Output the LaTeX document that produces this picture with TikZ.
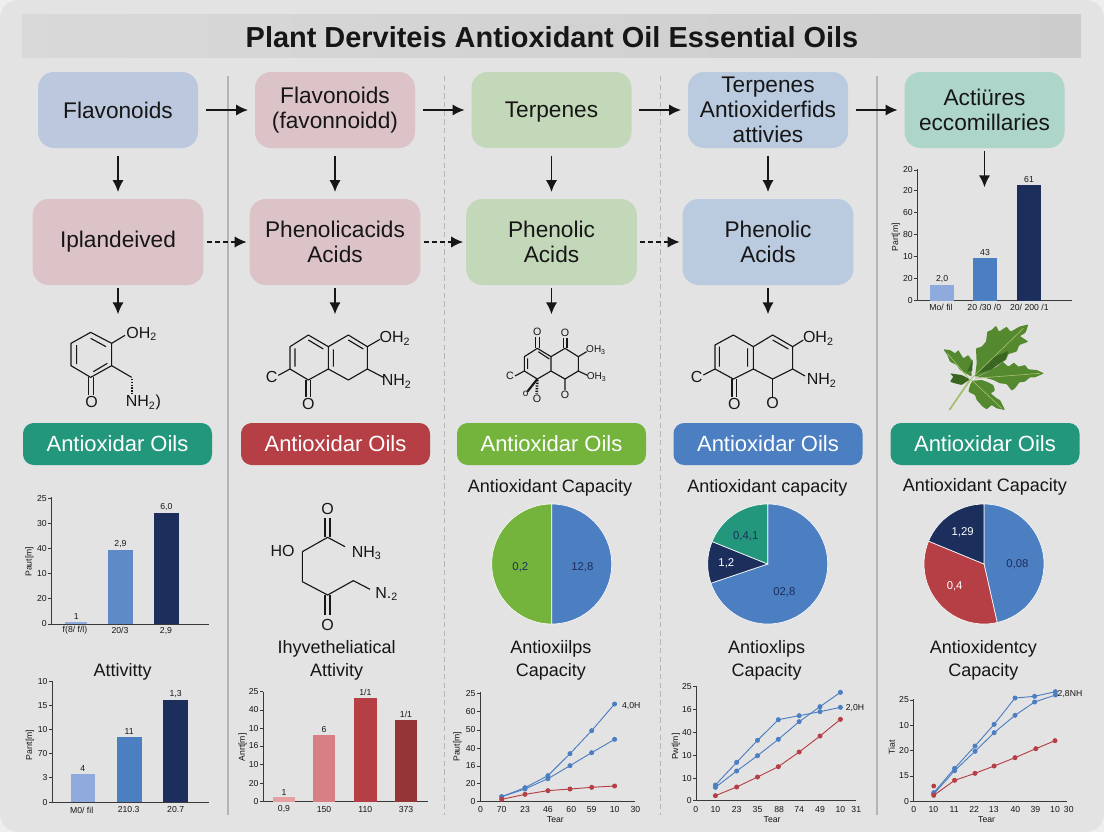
\documentclass[tikz,border=0pt]{standalone}
\usepackage{fontspec}
\setmainfont{Liberation Sans}
\usetikzlibrary{arrows.meta}

\definecolor{panelgrey}{HTML}{E3E3E3}
\definecolor{edgegrey}{HTML}{EEEEEE}
\definecolor{inkblack}{HTML}{161616}
\definecolor{seplight}{HTML}{B4B4B4}
\definecolor{boxblue}{HTML}{BCC8DE}
\definecolor{boxrose}{HTML}{DCC3C8}
\definecolor{boxgreen}{HTML}{C3D8B8}
\definecolor{boxsky}{HTML}{BACBE0}
\definecolor{boxteal}{HTML}{AED5CA}
\definecolor{oilteal}{HTML}{23977C}
\definecolor{oilred}{HTML}{B63E45}
\definecolor{oilgreen}{HTML}{74B43C}
\definecolor{oilblue}{HTML}{4C7EC2}
\definecolor{barpale}{HTML}{8FAADC}
\definecolor{barnavy}{HTML}{1C2E5C}
\definecolor{barpink}{HTML}{D77F85}
\definecolor{barblush}{HTML}{E7A0A0}
\definecolor{barwine}{HTML}{963538}
\definecolor{leafdark}{HTML}{3A6622}
\definecolor{leafmid}{HTML}{55892F}
\definecolor{leafpale}{HTML}{A3BF6A}

\tikzset{
	box/.style={rectangle,rounded corners=12pt,inner sep=0pt,align=center,text=inkblack,
		font=\fontsize{17}{18.75}\selectfont},
	boxtop/.style={box,minimum width=120pt,minimum height=57pt},
	boxlow/.style={box,minimum width=128pt,minimum height=64.5pt},
	oil/.style={rectangle,rounded corners=8pt,inner sep=0pt,minimum width=141.75pt,minimum height=31.5pt,
		text=white,font=\fontsize{16.5}{18}\selectfont},
	flow/.style={-{Latex[length=9pt,width=8.5pt]},line width=1.4pt,inkblack,shorten <=5.5pt,shorten >=5pt},
	flowdash/.style={flow,dash pattern=on 3.5pt off 2.5pt,shorten <=2.5pt,shorten >=2pt},
	sepsolid/.style={seplight,line width=.8pt},
	sepdash/.style={seplight,line width=.7pt,dash pattern=on 4pt off 2.5pt},
	bond/.style={inkblack,line width=.85pt,line join=round},
	chem/.style={inner sep=0pt,text=inkblack,font=\fontsize{12}{14}\selectfont},
	chemsmall/.style={inner sep=0pt,text=inkblack,font=\fontsize{7.5}{8}\selectfont},
	heading/.style={inner sep=0pt,yshift=-1pt,text=inkblack,font=\fontsize{13.5}{15}\selectfont},
	axisline/.style={inkblack!85,line width=.6pt},
	tick/.style={inner sep=0pt,text=inkblack,font=\fontsize{6.5}{7}\selectfont},
	pielab/.style={inner sep=0pt,font=\fontsize{8.5}{9}\selectfont},
	series/.style={line width=.7pt,mark=*,mark size=1.5pt},
	slice/.style={draw=white!80!panelgrey,line width=.5pt},
}

% y ticks: x of the axis, then y/label
\newcommand{\yticks}[2]{\foreach \yy/\lab in {#2} {
	\draw[axisline] (#1,\yy) -- ++(-2.5pt,0);
	\node[tick,anchor=east,xshift=-3.5pt] at (#1,\yy) {\lab};}}
% x labels: y of the row, then x/label
\newcommand{\xlabels}[2]{\foreach \xx/\lab in {#2} {
	\node[tick] at (\xx,#1) {\lab};}}
% bars: y of the base, then left/right/top/colour/value
\newcommand{\chartbars}[2]{\foreach \xa/\xb/\ytop/\clr/\val in {#2} {
	\fill[\clr] (\xa,#1) rectangle (\xb,\ytop);
	\node[tick,above=1.5pt] at ({(\xa+\xb)/2},\ytop) {\val};}}

\begin{document}
\begin{tikzpicture}[x=.75pt,y=-.75pt]
	\useasboundingbox (0,0) rectangle (1104,832);
	\fill[edgegrey] (0,0) rectangle (1104,832);
	\fill[panelgrey,rounded corners=14pt] (0,0) rectangle (1104,832);
	\shade[left color=black!15,right color=black!20] (22,14) rectangle (1081,57);
	\node [inner sep=0pt,text=inkblack,font=\fontsize{21.7}{24}\bfseries] (title) at (552,37) {Plant Derviteis Antioxidant Oil Essential Oils};

	% column separators
	\coordinate (sepAtop) at (228,76);
	\coordinate (sepAend) at (228,815);
	\coordinate (sepBtop) at (444,76);
	\coordinate (sepBend) at (444,815);
	\coordinate (sepCtop) at (660,76);
	\coordinate (sepCend) at (660,815);
	\coordinate (sepDtop) at (877,76);
	\coordinate (sepDend) at (877,815);
	\draw[sepsolid] (sepAtop) -- (sepAend);
	\draw[sepdash] (sepBtop) -- (sepBend);
	\draw[sepdash] (sepCtop) -- (sepCend);
	\draw[sepsolid] (sepDtop) -- (sepDend);

	\begin{scope}
		\node [boxtop,fill=boxblue] (flavoA) at (118,110) {Flavonoids};
		\node [boxtop,fill=boxrose] (flavoB) at (335,110) {Flavonoids\\(favonnoidd)};
		\node [boxtop,fill=boxgreen,text depth=0pt] (terpC) at (551.5,110) {Terpenes};
		\node [boxtop,fill=boxsky] (terpD) at (768,110) {Terpenes\\Antioxiderfids\\attivies};
		\node [boxtop,fill=boxteal] (actE) at (984.5,110) {Actiüres\\eccomillaries};

		\node [boxlow,fill=boxrose] (iplA) at (118,242) {Iplandeived};
		\node [boxlow,fill=boxrose] (phenB) at (335,242) {Phenolicacids\\Acids};
		\node [boxlow,fill=boxgreen] (phenC) at (551.5,242) {Phenolic\\Acids};
		\node [boxlow,fill=boxsky] (phenD) at (768,242) {Phenolic\\Acids};

		\node [oil,fill=oilteal] (oilA) at (117.5,444) {Antioxidar Oils};
		\node [oil,fill=oilred] (oilB) at (335.5,444) {Antioxidar Oils};
		\node [oil,fill=oilgreen] (oilC) at (551.5,444) {Antioxidar Oils};
		\node [oil,fill=oilblue] (oilD) at (768,444) {Antioxidar Oils};
		\node [oil,fill=oilteal] (oilE) at (985,444) {Antioxidar Oils};
	\end{scope}

	\coordinate (molA) at (118,321);
	\coordinate (molB) at (335,321);
	\coordinate (molC) at (551.5,321);
	\coordinate (molD) at (768,321);
	\coordinate (chartG) at (984.5,194);

	\begin{scope}
		\path (flavoA) edge [flow] (flavoB);
		\path (flavoB) edge [flow] (terpC);
		\path (terpC) edge [flow] (terpD);
		\path (terpD) edge [flow] (actE);
		\path (iplA) edge [flowdash] (phenB);
		\path (phenB) edge [flowdash] (phenC);
		\path (phenC) edge [flowdash] (phenD);
		\path (flavoA) edge [flow] (iplA);
		\path (flavoB) edge [flow] (phenB);
		\path (terpC) edge [flow] (phenC);
		\path (terpD) edge [flow] (phenD);
		\path (actE) edge [flow,shorten <=2pt] (chartG);
		\path (iplA) edge [flow,shorten <=2pt] (molA);
		\path (phenB) edge [flow,shorten <=2pt] (molB);
		\path (phenC) edge [flow,shorten <=2pt] (molC);
		\path (phenD) edge [flow,shorten <=2pt] (molD);
	\end{scope}

	% molecules of the first two columns, bar and title below
	\begin{scope}[shift={(0,300)},x=.25pt,y=-.25pt]
		\draw[bond] (272,97) -- (335,130) -- (335,197) -- (272,232) -- (213,197) -- (213,130) -- cycle;
		\draw[bond] (230,135) -- (230,192) (272,115) -- (318,140) (280,215) -- (322,190);
		\draw[bond] (335,130) -- (375,106) (335,197) -- (395,232);
		\draw[bond,dash pattern=on 1pt off 1.2pt,line width=1.6pt] (395,236) -- (395,282);
		\draw[bond] (265,232) -- (265,285) (280,232) -- (280,285);
		\node[chem] (ohA) at (425,102) {OH\textsubscript{2}};
		\node[chem] (nhA) at (430,308) {NH\textsubscript{2})};
		\node[chem] (oxA) at (275,306) {O};

		\draw[bond] (925,105) -- (985,140) -- (985,207) -- (925,240) -- (870,207) -- (870,140) -- cycle;
		\draw[bond] (985,140) -- (1045,105) -- (1102,140) -- (1102,207) -- (1045,240) -- (985,207);
		\draw[bond] (885,145) -- (885,200) (925,120) -- (970,147) (1000,148) -- (1000,200) (1045,120) -- (1090,147);
		\draw[bond] (1102,140) -- (1140,118) (1102,207) -- (1150,232) (870,207) -- (835,226);
		\draw[bond] (918,240) -- (918,292) (932,240) -- (932,292);
		\node[chem] (ohB) at (1185,115) {OH\textsubscript{2}};
		\node[chem] (nhB) at (1190,245) {NH\textsubscript{2}};
		\node[chem] (clB) at (815,232) {C};
		\node[chem] (oxB) at (925,313) {O};

		\draw[bond] (975,655) -- (975,712) (990,655) -- (990,712);
		\draw[bond] (907,755) -- (983,712) -- (1035,740);
		\draw[bond] (907,755) -- (907,845) -- (983,885) -- (1060,842) -- (1110,868);
		\draw[bond] (975,885) -- (975,945) (990,885) -- (990,945);
		\node[chem] (oxBa) at (983,627) {O};
		\node[chem] (oxBb) at (983,975) {O};
		\node[chem] (hoB) at (848,752) {HO};
		\node[chem] (nhBa) at (1100,760) {NH\textsubscript{3}};
		\node[chem] (nxB) at (1160,882) {N.\textsubscript{2}};

		% bars of the first column
		\draw[axisline] (155,592) -- (155,972) -- (628,972);
		\yticks{155}{595/25,670/30,745/40,820/10,895/20,972/0}
		\chartbars{972}{195/262/965/barpale/1,325/398/750/oilblue!90!white/{2,9},462/536/640/barnavy/{6,0}}
		\xlabels{992}{225/{f(8/ f/l)},360/{20/3},498/{2,9}}
		\node[tick,rotate=90] (unitA) at (88,785) {Paut[m]};
	\end{scope}

	% last two bar charts
	\begin{scope}[shift={(0,640)},x=.25pt,y=-.25pt]
		\node[heading] (headB) at (368,92) {Attivitty};
		\draw[axisline] (157,122) -- (157,487) -- (628,487);
		\yticks{157}{125/10,197/15,269/10,341/70,413/3,487/0}
		\chartbars{487}{212/285/402/barpale/4,350/425/291/oilblue/11,490/564/180/barnavy/{1,3}}
		\xlabels{510}{245/{M0/ fil},386/210.3,527/20.7}
		\node[tick,rotate=90] (unitB) at (90,315) {Parrt[m]};

		\node[heading] (headCa) at (1010,22) {Ihyvetheliatical};
		\node[heading] (headCb) at (1010,92) {Attivity};
		\draw[axisline] (790,155) -- (790,485) -- (1283,485);
		\yticks{790}{155/25,210/40,265/10,318/16,373/10,430/20,485/0}
		\chartbars{485}{820/884/472/barblush/1,938/1006/285/barpink/6,1062/1130/173/oilred/{1/1},1184/1252/240/barwine/{1/1}}
		\xlabels{508}{852/{0,9},972/150,1096/110,1218/373}
		\node[tick,rotate=90] (unitC) at (728,322) {Anrt[m]};
	\end{scope}

	% molecules and headings, columns three and four
	\begin{scope}[shift={(450,300)},x=.25pt,y=-.25pt]
		\draw[bond] (262,145) -- (303,170) -- (303,213) -- (262,237) -- (223,213) -- (223,170) -- cycle;
		\draw[bond] (303,170) -- (345,145) -- (385,170) -- (385,213) -- (345,237) -- (303,213);
		\draw[bond] (233,175) -- (233,207) (265,155) -- (298,177);
		\draw[bond] (256,112) -- (256,145) (268,112) -- (268,145) (340,115) -- (340,145) (351,115) -- (351,145);
		\draw[bond] (385,170) -- (410,155) (385,213) -- (412,226) (223,213) -- (195,228) (345,237) -- (345,270);
		\draw[bond,line width=1.6pt] (262,237) -- (232,275);
		\draw[bond,line width=2pt,dash pattern=on 1pt off 1pt] (262,240) -- (260,282);
		\node[chem,font=\fontsize{8}{9}\selectfont] (oxCa) at (262,96) {O};
		\node[chem,font=\fontsize{8}{9}\selectfont] (oxCb) at (345,97) {O};
		\node[chem,font=\fontsize{8}{9}\selectfont] (oxCc) at (345,283) {O};
		\node[chem,font=\fontsize{8}{9}\selectfont] (oxCd) at (261,296) {O};
		\node[chem,font=\fontsize{8}{9}\selectfont] (clC) at (180,228) {C};
		\node[chemsmall] (clCb) at (227,283) {o};
		\node[chemsmall] (ohCa) at (438,151) {OH\textsubscript{3}};
		\node[chemsmall] (ohCb) at (440,232) {OH\textsubscript{3}};

		\draw[bond] (850,105) -- (910,140) -- (910,207) -- (850,237) -- (795,207) -- (795,135) -- cycle;
		\draw[bond] (910,140) -- (968,105) -- (1028,140) -- (1028,207) -- (968,237) -- (910,207);
		\draw[bond] (808,140) -- (808,200) (893,145) -- (893,200) (968,120) -- (1015,147);
		\draw[bond] (1028,140) -- (1060,120) (1028,207) -- (1065,228) (795,207) -- (760,225);
		\draw[bond] (846,237) -- (846,292) (860,237) -- (860,292) (968,237) -- (968,292);
		\node[chem] (ohD) at (1105,115) {OH\textsubscript{2}};
		\node[chem] (nhD) at (1115,242) {NH\textsubscript{2}};
		\node[chem] (clD) at (740,230) {C};
		\node[chem] (oxDa) at (853,312) {O};
		\node[chem] (oxDb) at (968,310) {O};

		\node[heading] (headPieC) at (300,560) {Antioxidant Capacity};
		\node[heading] (headPieD) at (952,560) {Antioxidant capacity};
	\end{scope}

	% pies
	\begin{scope}[shift={(551.7,564)},x=1pt,y=1pt]
		\fill[oilgreen,slice] (0,0) -- (90:45) arc[start angle=90,end angle=270,radius=45] -- cycle;
		\fill[oilblue,slice] (0,0) -- (90:45) arc[start angle=90,end angle=-90,radius=45] -- cycle;
		\node[pielab,text=barnavy] (pieCa) at (-23.5,-2.5) {0,2};
		\node[pielab,text=barnavy] (pieCb) at (23,-2.5) {12,8};
	\end{scope}
	\begin{scope}[shift={(767.7,564)},x=1pt,y=1pt]
		\fill[oilblue,slice] (0,0) -- (90:45) arc[start angle=90,end angle=-161.3,radius=45] -- cycle;
		\fill[barnavy,slice] (0,0) -- (158:45) arc[start angle=158,end angle=198.7,radius=45] -- cycle;
		\fill[oilteal,slice] (0,0) -- (90:45) arc[start angle=90,end angle=158,radius=45] -- cycle;
		\node[pielab,text=barnavy] (pieDa) at (-16.5,21) {0,4,1};
		\node[pielab,text=white] (pieDb) at (-31,.5) {1,2};
		\node[pielab,text=barnavy] (pieDc) at (12.5,-21) {02,8};
	\end{scope}
	\begin{scope}[shift={(984,564)},x=1pt,y=1pt]
		\fill[oilblue,slice] (0,0) -- (90:45) arc[start angle=90,end angle=-77.3,radius=45] -- cycle;
		\fill[oilred,slice] (0,0) -- (-77.3:45) arc[start angle=-77.3,end angle=-202.4,radius=45] -- cycle;
		\fill[barnavy,slice] (0,0) -- (157.6:45) arc[start angle=157.6,end angle=90,radius=45] -- cycle;
		\node[pielab,text=white] (pieEa) at (-16,24) {1,29};
		\node[pielab,text=white] (pieEb) at (-22,-17) {0,4};
		\node[pielab,text=barnavy] (pieEc) at (25,-.5) {0,08};
	\end{scope}

	% top right bars and the leaf
	\begin{scope}[shift={(860,150)},x=.25pt,y=-.25pt]
		\draw[axisline] (173,57) -- (173,452) -- (635,452);
		\yticks{173}{60/20,122/20,188/60,254/80,320/10,385/20,452/0}
		\chartbars{452}{210/283/405/barpale/{2,0},338/412/325/oilblue/43,470/544/105/barnavy/61}
		\xlabels{472}{243/{Mo/ fil},373/{20 /30 /0},508/{20/ 200 /1}}
		\node[tick,rotate=90] (unitG) at (108,262) {Part[m]};

		\draw[leafpale,line width=1.3pt] (268,780) -- (330,690);
		\fill[leafmid,rounded corners=.6pt] (345,680) -- (350,640) -- (348,595) -- (365,590) -- (378,575) -- (382,545) -- (395,540) -- (408,527) -- (417,545) -- (440,530) -- (452,545) -- (478,530) -- (505,523) -- (497,548) -- (480,558) -- (505,575) -- (478,585) -- (470,605) -- (445,612) -- (438,630) -- (410,645) -- (395,660) -- (350,680) -- cycle;
		\fill[leafdark] (352,670) -- (400,622) -- (445,603) -- (436,628) -- (395,658) -- cycle;
		\fill[leafmid,rounded corners=.6pt] (350,682) -- (385,665) -- (410,650) -- (428,635) -- (445,650) -- (462,638) -- (475,650) -- (495,645) -- (505,658) -- (530,660) -- (552,670) -- (525,682) -- (510,682) -- (495,695) -- (478,697) -- (465,715) -- (455,722) -- (440,702) -- (420,700) -- (400,690) -- (370,682) -- cycle;
		\fill[leafmid,rounded corners=.6pt] (335,680) -- (320,672) -- (300,660) -- (290,645) -- (270,635) -- (262,615) -- (250,598) -- (270,600) -- (285,610) -- (295,600) -- (310,625) -- (325,615) -- (338,635) -- (335,655) -- cycle;
		\fill[leafdark,rounded corners=.6pt] (330,688) -- (305,705) -- (285,700) -- (270,695) -- (280,680) -- (270,670) -- (305,675) -- cycle;
		\fill[leafdark] (322,665) -- (338,628) -- (337,662) -- cycle;
		\fill[leafmid,rounded corners=.6pt] (338,692) -- (365,690) -- (380,695) -- (400,705) -- (405,722) -- (392,730) -- (410,745) -- (420,750) -- (435,780) -- (410,775) -- (395,765) -- (380,778) -- (368,770) -- (350,750) -- (345,735) -- (325,725) -- (330,705) -- cycle;
		\draw[leafpale,line width=.5pt] (330,690) -- (490,535) (345,685) -- (540,670) (330,690) -- (262,610) (335,690) -- (425,775);
	\end{scope}

	% line charts
	\begin{scope}[shift={(450,640)},x=.3125pt,y=-.25pt]
		\node[heading] (headLineC) at (242,22) {Antioxiilps};
		\node[heading] (capaC) at (242,92) {Capacity};
		\draw[axisline] (73,155) -- (73,485) -- (445,485);
		\yticks{73}{160/25,215/60,270/50,325/40,378/16,430/20,485/0}
		\xlabels{508}{73/0,124/70,180/23,235/46,291/60,340/59,395/10,445/30}
		\node[tick] (tearC) at (253,540) {Tear};
		\node[tick,rotate=90] (unitLineC) at (18,320) {Paut[m]};
		\draw[series,oilblue] plot coordinates {(124,470) (180,443) (235,407) (288,341) (340,272) (395,192)};
		\draw[series,oilblue] plot coordinates {(124,470) (180,447) (235,416) (288,377) (340,338) (395,298)};
		\draw[series,oilred] plot coordinates {(124,478) (180,463) (235,452) (288,447) (340,442) (395,438)};
		\node[tick] (fourH) at (435,197) {4,0H};

		\node[heading] (headLineD) at (760,22) {Antioxlips};
		\node[heading] (capaD) at (760,92) {Capacity};
		\draw[axisline] (592,137) -- (592,482) -- (975,482);
		\yticks{592}{140/25,208/16,278/40,347/10,415/10,482/0}
		\xlabels{508}{590/0,637/10,688/23,738/35,790/88,838/74,888/49,937/10,975/31}
		\node[tick] (tearD) at (773,540) {Tear};
		\node[tick,rotate=90] (unitLineD) at (542,320) {Pwt[m]};
		\draw[series,oilblue] plot coordinates {(637,435) (688,367) (738,301) (788,239) (838,227) (888,215) (937,202)};
		\draw[series,oilblue] plot coordinates {(637,442) (688,393) (738,347) (788,298) (838,245) (888,200) (937,157)};
		\draw[series,oilred] plot coordinates {(637,467) (688,441) (738,411) (788,380) (838,336) (888,288) (937,238)};
		\node[tick] (twoH) at (972,205) {2,0H};

		\node[heading] (headLineE) at (1280,22) {Antioxidentcy};
		\node[heading] (capaE) at (1280,92) {Capacity};
		\draw[axisline] (1113,178) -- (1113,484) -- (1480,484);
		\yticks{1113}{180/25,257/10,332/20,408/15,484/0}
		\xlabels{508}{1113/0,1160/10,1210/11,1258/22,1305/13,1357/40,1405/39,1452/10,1485/30}
		\node[tick] (tearE) at (1288,540) {Tear};
		\node[tick,rotate=90] (unitLineE) at (1060,322) {Tiat};
		\draw[series,oilblue] plot coordinates {(1161,458) (1211,385) (1260,318) (1306,253) (1356,174) (1403,169) (1453,155)};
		\draw[series,oilblue] plot coordinates {(1161,462) (1211,392) (1260,334) (1306,278) (1356,226) (1403,186) (1453,165)};
		\draw[series,oilred] plot coordinates {(1161,466) (1211,421) (1260,400) (1306,378) (1356,353) (1406,326) (1452,302)};
		\fill[oilred] (1161,438) circle[radius=1.8pt];
		\node[tick] (twoNH) at (1488,163) {2,8NH};
	\end{scope}

	\node[heading] (headPieE) at (984.8,486) {Antioxidant Capacity};
\end{tikzpicture}
\end{document}
